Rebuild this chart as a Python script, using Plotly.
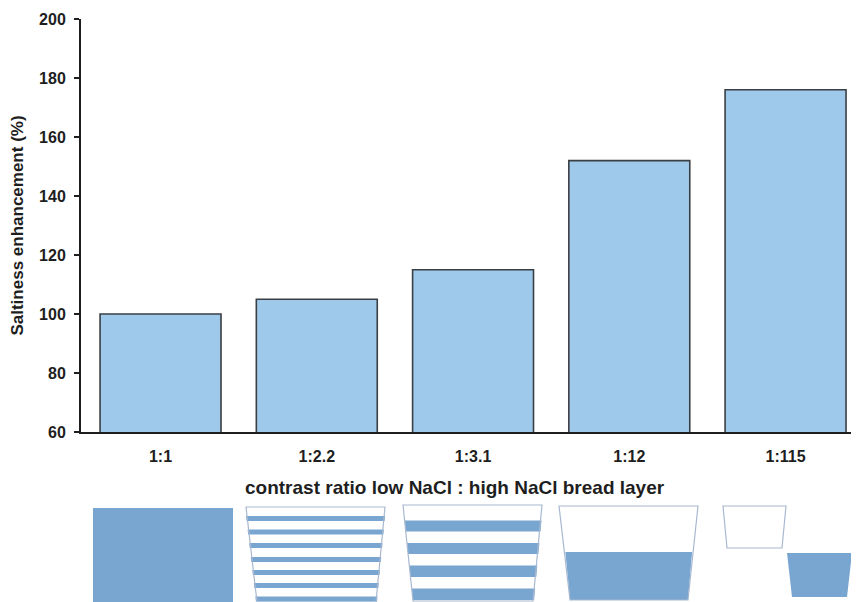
import plotly.graph_objects as go

categories = ["1:1", "1:2.2", "1:3.1", "1:12", "1:115"]
enhancement = [100, 105, 115, 152, 176]
y_ticks = [60, 80, 100, 120, 140, 160, 180, 200]
x_title = "contrast ratio low NaCl : high NaCl bread layer"
y_title = "Saltiness enhancement (%)"

# page body has an 8px margin in the browser; compensate so the figure fills 859x602
OFF = 8
W_FIG, H_FIG = 859 - OFF, 602 - OFF
L, R, T, B = 81 - OFF, 0, 19 - OFF, 170
PW = W_FIG - L - R
PH = H_FIG - T - B

def px(x):
    return (x - OFF - L) / PW

def py(y):
    return (H_FIG - B - (y - OFF)) / PH

FONT = "Liberation Sans, Arial, sans-serif"
TXT = "#1E1E1E"
BAR_FILL = "#9FC9EA"
DIAG_FILL = "#79A6D0"
DIAG_LINE = "#A8B8D0"

fig = go.Figure()
fig.add_trace(go.Bar(
    x=categories, y=enhancement, base=0,
    width=0.774,
    marker=dict(color=BAR_FILL, line=dict(color="#3A3F44", width=1.6)),
    hoverinfo="x+y",
))

shapes = []

def poly(points, fill=None, line=None, lw=1):
    d = "M " + " L ".join(f"{px(a):.5f},{py(b):.5f}" for a, b in points) + " Z"
    shapes.append(dict(type="path", path=d, xref="paper", yref="paper",
                       fillcolor=fill if fill else "rgba(0,0,0,0)",
                       line=dict(color=line if line else "rgba(0,0,0,0)", width=lw if line else 0),
                       layer="above"))

def trap_x(top_y, bot_y, tl, tr, bl, br, y):
    f = (y - top_y) / (bot_y - top_y)
    return tl + (bl - tl) * f, tr + (br - tr) * f

# Diagram 1: uniform
poly([(93, 508), (233, 508), (233, 603), (93, 603)], fill=DIAG_FILL)

# Diagram 2: thin stripes
t2 = (507, 602, 246, 385, 257, 376)
for yc in [518.5, 532, 545.5, 559.5, 572.5, 585.5, 599]:
    y0, y1 = yc - 2.4, yc + 2.4
    a0, b0 = trap_x(*t2, y0)
    a1, b1 = trap_x(*t2, y1)
    poly([(a0 - 1, y0), (b0 + 1, y0), (b1 + 1, y1), (a1 - 1, y1)], fill=DIAG_FILL)
poly([(246, 507), (385, 507), (376, 602), (257, 602)], line=DIAG_LINE, lw=1.2)

# Diagram 3: thick stripes
t3 = (505, 601, 403, 542, 413, 533)
for y0, y1 in [(520.5, 531.5), (543, 554), (565.5, 577), (588.5, 600)]:
    a0, b0 = trap_x(*t3, y0)
    a1, b1 = trap_x(*t3, y1)
    poly([(a0, y0), (b0 + 1, y0), (b1 + 1, y1), (a1, y1)], fill=DIAG_FILL)
poly([(403, 505), (542, 505), (533, 601), (413, 601)], line=DIAG_LINE, lw=1.2)

# Diagram 4: half filled
t4 = (506, 600, 559, 698, 570, 688)
a0, b0 = trap_x(*t4, 552)
poly([(a0 + 1, 552), (b0 - 1, 552), (688, 600), (570, 600)], fill=DIAG_FILL)
poly([(559, 506), (698, 506), (688, 600), (570, 600)], line=DIAG_LINE, lw=1.2)

# Diagram 5: separated
poly([(723, 506), (786, 506), (782, 548), (727, 548)], line=DIAG_LINE, lw=1.2)
poly([(787, 553), (852, 553), (847, 597), (792, 597)], fill=DIAG_FILL)

fig.update_layout(
    width=W_FIG, height=H_FIG,
    margin=dict(l=L, r=R, t=T, b=B, pad=0),
    paper_bgcolor="white", plot_bgcolor="white",
    showlegend=False,
    shapes=shapes,
    font=dict(family=FONT, color=TXT),
    annotations=[dict(
        text=x_title, xref="paper", yref="paper",
        x=px(455), y=py(487), xanchor="center", yanchor="middle",
        showarrow=False,
        font=dict(size=19, weight="bold", family=FONT, color=TXT),
    )],
    xaxis=dict(
        range=[-0.509, 4.47],
        showline=True, linecolor=TXT, linewidth=2,
        ticks="", showgrid=False, zeroline=False,
        tickfont=dict(size=16, weight="bold", family=FONT, color=TXT),
        ticklabelstandoff=9,
    ),
    yaxis=dict(
        range=[60, 200],
        tickvals=y_ticks,
        showline=True, linecolor=TXT, linewidth=2,
        ticks="outside", ticklen=5, tickwidth=2, tickcolor=TXT,
        showgrid=False, zeroline=False,
        tickfont=dict(size=16, weight="bold", family=FONT, color=TXT),
        ticklabelstandoff=5,
        title=dict(text=y_title,
                   font=dict(size=17, weight="bold", family=FONT, color=TXT),
                   standoff=14),
    ),
)

fig.write_html("out.html")
